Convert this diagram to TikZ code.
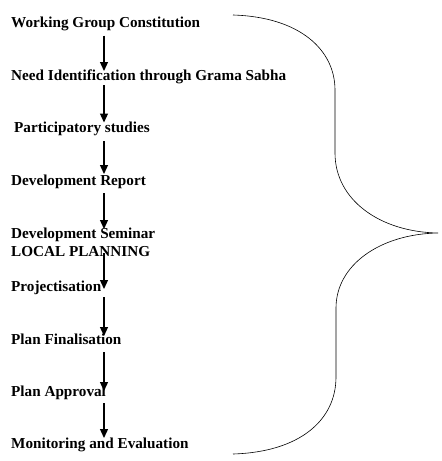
\documentclass[tikz,border=0pt]{standalone}
\usepackage{fontspec}
\setmainfont{Liberation Serif}
\usetikzlibrary{arrows.meta}
\begin{document}
\begin{tikzpicture}[x=1pt,y=-1pt,
  lbl/.style={anchor=base west,inner sep=0pt,font=\fontsize{15.2}{18}\selectfont\bfseries},
  arr/.style={line width=1.3pt,-{Triangle[length=9pt,width=8pt]}},
  brace/.style={line width=0.6pt}]
\useasboundingbox (0,0) rectangle (442,461);
\node[lbl] (n1) at (11,27.5) {Working Group Constitution};
\node[lbl] (n2) at (11,80) {Need Identification through Grama Sabha};
\node[lbl] (n3) at (14,132.5) {Participatory studies};
\node[lbl] (n4) at (11,185) {Development Report};
\node[lbl] (n5) at (11,238) {Development Seminar};
\node[lbl] (n5b) at (11,256) {LOCAL PLANNING};
\node[lbl] (n6) at (11,291) {Projectisation};
\node[lbl] (n7) at (11,344) {Plan Finalisation};
\node[lbl] (n8) at (11,396) {Plan Approval};
\node[lbl] (n9) at (11,448) {Monitoring and Evaluation};
\coordinate (ax) at (104,0);
\draw[arr] ([yshift=-8]n1.base -| ax) -- ([yshift=9]n2.base -| ax);
\draw[arr] ([yshift=-5]n2.base -| ax) -- ([yshift=10]n3.base -| ax);
\draw[arr] ([yshift=-8.5]n3.base -| ax) -- ([yshift=11]n4.base -| ax);
\draw[arr] ([yshift=-8]n4.base -| ax) -- ([yshift=9]n5.base -| ax);
\draw[arr] ([yshift=3]n5b.base -| ax) -- ([yshift=2]n6.base -| ax);
\draw[arr] ([yshift=-6]n6.base -| ax) -- ([yshift=8]n7.base -| ax);
\draw[arr] ([yshift=-8]n7.base -| ax) -- ([yshift=5]n8.base -| ax);
\draw[arr] ([yshift=-7]n8.base -| ax) -- ([yshift=10]n9.base -| ax);
\draw[brace] (233,15) .. controls (300,17) and (335,50) .. (335,90) -- (335,153)
  .. controls (335,200) and (380,232) .. (438,233)
  .. controls (380,234) and (336,265) .. (336,308) -- (336,377)
  .. controls (336,420) and (300,452) .. (233,454);
\end{tikzpicture}
\end{document}
